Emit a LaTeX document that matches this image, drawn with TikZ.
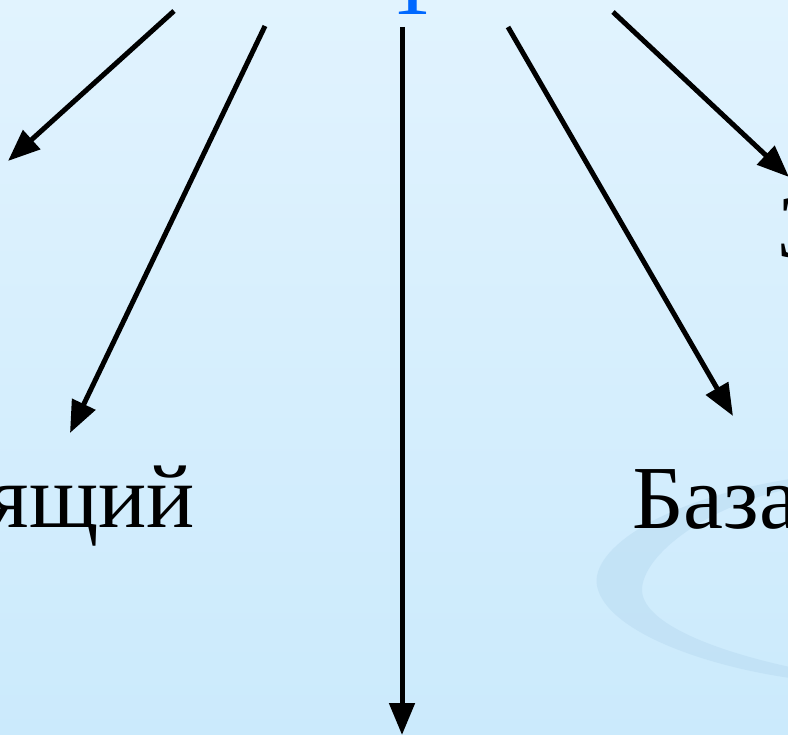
\documentclass[tikz,border=0pt]{standalone}
\usepackage{fontspec}
\setmainfont{Liberation Serif}
\usetikzlibrary{arrows.meta}
\definecolor{bgtop}{RGB}{225,243,254}
\definecolor{bgbottom}{RGB}{203,234,252}
\definecolor{swoosh}{RGB}{186,220,242}
\definecolor{titleblue}{RGB}{0,104,255}
\begin{document}
\begin{tikzpicture}[x=1pt, y=-1pt,
    label/.style={inner sep=0pt, font=\fontsize{90}{94}\selectfont},
    link/.style={line width=5pt, -{Triangle[length=32pt,width=25pt]}}]
    \useasboundingbox (0,0) rectangle (788,735);
    \shade[top color=bgtop, bottom color=bgbottom] (0,0) rectangle (788,735);
    % swoosh
    \fill[swoosh, opacity=0.55] (790,479) .. controls (660,500) and (590,550) .. (597,586)
        .. controls (606,630) and (700,665) .. (790,678)
        -- (790,667) .. controls (712,650) and (640,622) .. (642,588)
        .. controls (646,548) and (720,502) .. (790,489) -- cycle;
    \draw (413,15) node[label, anchor=base, text=titleblue](title){Т};
    \draw (195,527) node[label, anchor=base east](left){ящий};
    \draw (632,529) node[label, anchor=base west](base){База};
    \draw (777,258) node[label, anchor=base west](right){З};
    \coordinate (s1) at (174,11);
    \coordinate (s2) at (265,26);
    \coordinate (s3) at (402,27);
    \coordinate (s4) at (508,27);
    \coordinate (s5) at (613,12);
    \coordinate (e1) at (8,161);
    \coordinate (e2) at (70,433);
    \coordinate (e3) at (402,735);
    \coordinate (e4) at (733,416);
    \coordinate (e5) at (789,177);
    \draw[link] (s1) -- (e1);
    \draw[link] (s2) -- (e2);
    \draw[link] (s3) -- (e3);
    \draw[link] (s4) -- (e4);
    \draw[link] (s5) -- (e5);
\end{tikzpicture}
\end{document}
